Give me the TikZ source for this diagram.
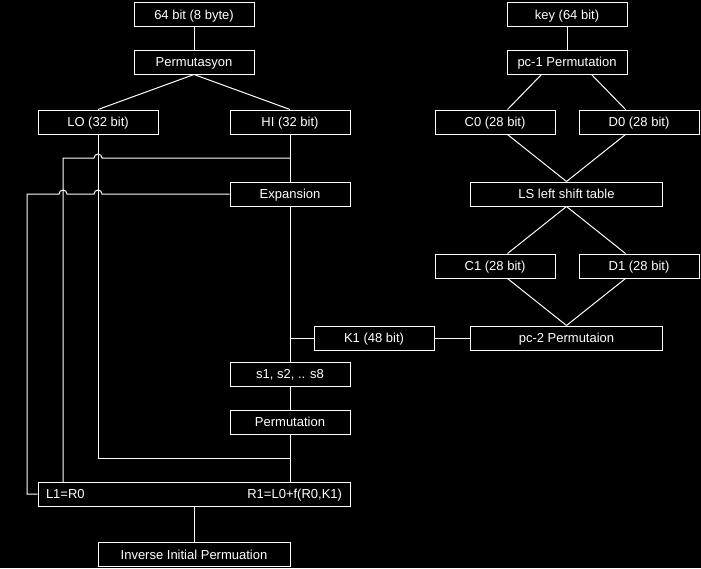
\documentclass[tikz,border=0pt]{standalone}
\usepackage{tikz}
\usepackage{xcolor}
\usepackage{fontspec}
\setmainfont{Liberation Sans}

\begin{document}
\begin{tikzpicture}[x=1pt, y=1pt]
    % Styles
    \tikzstyle{block} = [rectangle, draw=white, line width=1pt, minimum width=120pt, minimum height=24pt, inner sep=0pt, text height=9.3pt, text depth=0pt, text=white, font=\fontsize{13}{15}\selectfont]
    \tikzstyle{line} = [white, line width=1pt]

    % Background
    \fill[black] (0,0) rectangle (701,-568);

    % Nodes (data side)
    \node[block] (in64) at (194,-14.5) {64 bit (8 byte)};
    \node[block] (perm0) at (194,-62) {Permutasyon};
    \node[block] (lo) at (98,-122) {LO (32 bit)};
    \node[block] (hi) at (290,-122) {HI (32 bit)};
    \node[block] (exp) at (290,-194) {Expansion};
    \node[block] (k1) at (374,-338) {K1 (48 bit)};
    \node[block] (sbox) at (290,-374) {s1, s2, .. s8};
    \node[block] (permf) at (290,-422) {Permutation};
    \node[block, minimum width=312pt] (round) at (194,-494) {\makebox[296pt]{L1=R0\hfill R1=L0+f(R0,K1)}};
    \node[block, minimum width=192pt] (inv) at (194,-554.5) {Inverse Initial Permuation};

    % Nodes (key side)
    \node[block] (key) at (567,-14.5) {key (64 bit)};
    \node[block] (pc1) at (567,-62) {pc-1 Permutation};
    \node[block] (c0) at (495,-122) {C0 (28 bit)};
    \node[block] (d0) at (639,-122) {D0 (28 bit)};
    \node[block, minimum width=192pt] (ls) at (566.5,-194) {LS left shift table};
    \node[block] (c1) at (495,-266) {C1 (28 bit)};
    \node[block] (d1) at (639,-266) {D1 (28 bit)};
    \node[block, minimum width=192pt] (pc2) at (566.5,-338) {pc-2 Permutaion};

    % Branch points
    \coordinate (b1) at (290,-158);
    \coordinate (b2) at (290,-338);
    \coordinate (j1) at (290,-458);

    % Lines (data side)
    \draw[line] (in64) -- (perm0);
    \draw[line] (perm0.south) -- (lo.north);
    \draw[line] (perm0.south) -- (hi.north);
    \draw[line] (hi) -- (exp);
    \draw[line] (exp) -- (sbox);
    \draw[line] (sbox) -- (permf);
    \draw[line] (permf) -- (permf |- round.north);
    \draw[line] (lo) |- (j1);
    \draw[line] (b1) -- (102,-158) arc[start angle=0, end angle=180, radius=4pt] -- (63,-158) -- (63,-482);
    \draw[line] (exp.west) -- (102,-194) arc[start angle=0, end angle=180, radius=4pt] -- (67,-194) arc[start angle=0, end angle=180, radius=4pt] -- (27,-194) |- (round.west);
    \draw[line] (b2) -- (k1);
    \draw[line] (k1) -- (pc2);
    \draw[line] (round) -- (inv);

    % Lines (key side)
    \draw[line] (key) -- (pc1);
    \draw[line] ([xshift=35pt]pc1.south west) -- ([xshift=-48pt]c0.north east);
    \draw[line] ([xshift=-36pt]pc1.south east) -- ([xshift=47pt]d0.north west);
    \draw[line] ([xshift=-48pt]c0.south east) -- (ls.north);
    \draw[line] ([xshift=47pt]d0.south west) -- (ls.north);
    \draw[line] (ls.south) -- ([xshift=-48pt]c1.north east);
    \draw[line] (ls.south) -- ([xshift=47pt]d1.north west);
    \draw[line] ([xshift=-48pt]c1.south east) -- (pc2.north);
    \draw[line] ([xshift=47pt]d1.south west) -- (pc2.north);
\end{tikzpicture}
\end{document}
